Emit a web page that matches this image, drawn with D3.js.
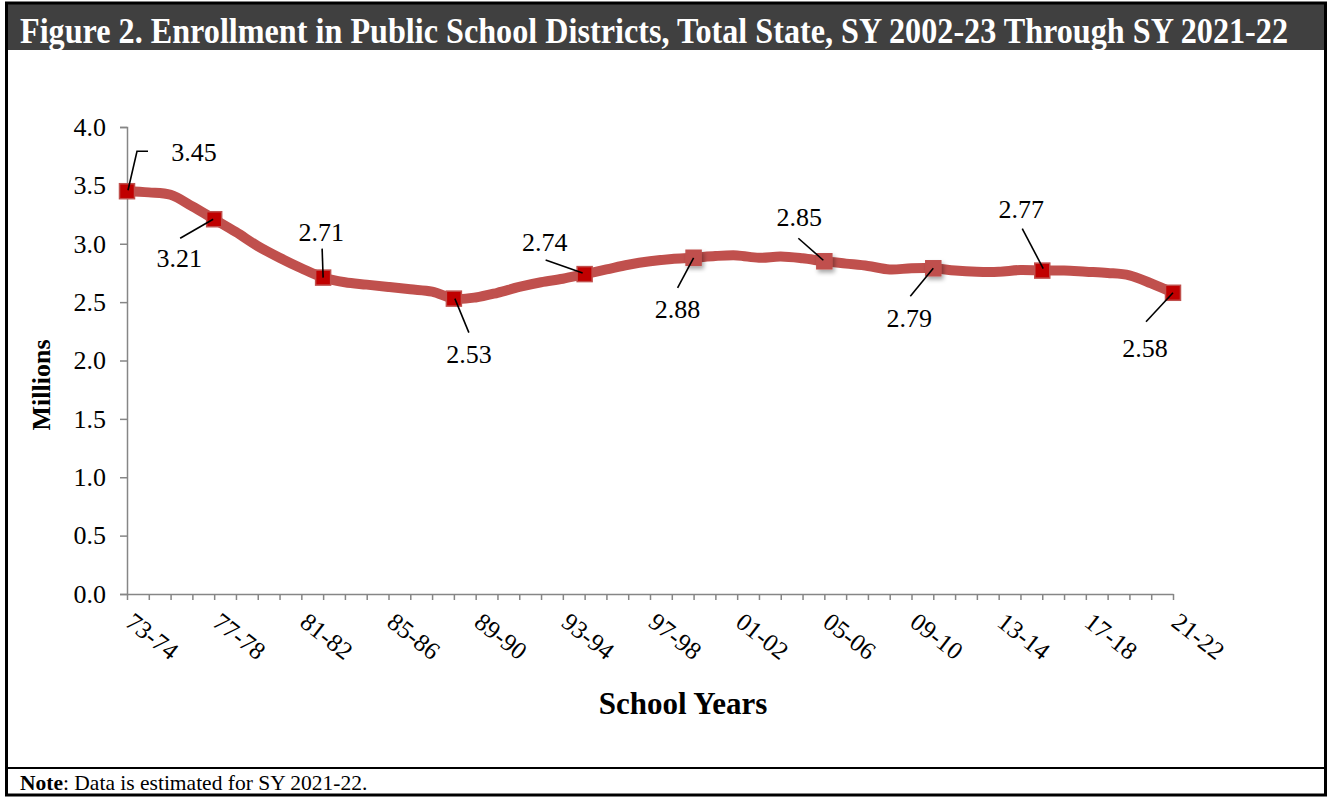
<!DOCTYPE html>
<html>
<head>
<meta charset="utf-8">
<style>
  body { margin: 0; background: #fff; }
  svg { display: block; font-family: "Liberation Serif", "Times New Roman", serif; }
  svg text { font-family: "Liberation Serif", "Times New Roman", serif; }
</style>
</head>
<body>
<svg width="1330" height="798"></svg>
<script src="https://cdn.jsdelivr.net/npm/d3@7"></script>
<script>

// Enrollment in public school districts, millions, by school year
var years = ["73-74", "74-75", "75-76", "76-77", "77-78", "78-79", "79-80", "80-81", "81-82", "82-83",
             "83-84", "84-85", "85-86", "86-87", "87-88", "88-89", "89-90", "90-91", "91-92", "92-93",
             "93-94", "94-95", "95-96", "96-97", "97-98", "98-99", "99-00", "00-01", "01-02", "02-03",
             "03-04", "04-05", "05-06", "06-07", "07-08", "08-09", "09-10", "10-11", "11-12", "12-13",
             "13-14", "14-15", "15-16", "16-17", "17-18", "18-19", "19-20", "20-21", "21-22"];

var enrollment = [3.45, 3.44, 3.42, 3.32, 3.21, 3.10, 2.98, 2.88, 2.79, 2.71,
                  2.67, 2.65, 2.63, 2.61, 2.59, 2.53, 2.54, 2.58, 2.63, 2.67,
                  2.70, 2.74, 2.78, 2.82, 2.85, 2.87, 2.88, 2.895, 2.90, 2.88,
                  2.89, 2.875, 2.85, 2.83, 2.81, 2.78, 2.79, 2.79, 2.77, 2.76,
                  2.76, 2.775, 2.77, 2.77, 2.76, 2.75, 2.73, 2.66, 2.58];

var labelledYears = ["73-74", "77-78", "82-83", "88-89", "94-95", "99-00", "05-06", "10-11", "15-16", "21-22"];
var labelText = ["3.45", "3.21", "2.71", "2.53", "2.74", "2.88", "2.85", "2.79", "2.77", "2.58"];
var tickYears = ["73-74", "77-78", "81-82", "85-86", "89-90", "93-94", "97-98", "01-02", "05-06", "09-10", "13-14", "17-18", "21-22"];
var yTicks = [0, 0.5, 1, 1.5, 2, 2.5, 3, 3.5, 4];

// label placement relative to the marker: label centre, leader line points
var callouts = [
  {dx: 67, dy: -39, leader: [[21, -40], [10, -40], [1, -1]], dark: true},
  {dx: -35, dy: 39, leader: [[-34, 19], [-1, 0]], dark: true},
  {dx: -2, dy: -46, leader: [[-1, -29], [0, 0]], dark: true},
  {dx: 15, dy: 55, leader: [[15, 34], [1, 0]], dark: true},
  {dx: -40, dy: -32, leader: [[-39, -14], [-2, -1]], dark: true},
  {dx: -16, dy: 51, leader: [[-16, 30], [0, 0]], dark: false},
  {dx: -25, dy: -44, leader: [[-26, -23], [-1, -1]], dark: false},
  {dx: -24, dy: 50, leader: [[-23, 28], [0, 0]], dark: false},
  {dx: -21, dy: -62, leader: [[-20, -42], [1, -2]], dark: true},
  {dx: -28, dy: 55, leader: [[-27, 29], [0, 0]], dark: true}
];

var svg = d3.select("svg");

// frame and title bar
svg.append("rect").attr("x", 6).attr("y", 3).attr("width", 1319).attr("height", 47).attr("fill", "#404040");
svg.append("rect").attr("x", 6.5).attr("y", 3).attr("width", 1319).attr("height", 792)
    .attr("fill", "none").attr("stroke", "#000").attr("stroke-width", 3);
svg.append("line").attr("x1", 6).attr("x2", 1325).attr("y1", 768).attr("y2", 768)
    .attr("stroke", "#000").attr("stroke-width", 2);

svg.append("text")
    .attr("transform", "translate(20,43) scale(1,1.12)")
    .attr("fill", "#fff").attr("font-weight", "bold").attr("font-size", 32)
    .attr("textLength", 1268).attr("lengthAdjust", "spacingAndGlyphs")
    .text("Figure 2. Enrollment in Public School Districts, Total State, SY 2002-23 Through SY 2021-22");

var note = svg.append("text").attr("x", 20).attr("y", 790).attr("font-size", 21.5);
note.append("tspan").attr("font-weight", "bold").text("Note");
note.append("tspan").text(": Data is estimated for SY 2021-22.");

var x = d3.scalePoint().domain(years).range([127, 1173]);
var y = d3.scaleLinear().domain([0, 4]).range([594, 127]);

var axisColor = "#868686";

// y axis
var gy = svg.append("g")
    .attr("transform", "translate(127,0)")
    .call(d3.axisLeft(y).tickValues(yTicks).tickFormat(d3.format(".1f")).tickSize(7).tickPadding(14));
gy.select(".domain").attr("stroke", axisColor).attr("stroke-width", 1.5);
gy.selectAll(".tick line").attr("stroke", axisColor).attr("stroke-width", 1.5);
gy.selectAll(".tick text").attr("font-family", "Liberation Serif").attr("font-size", 26).attr("fill", "#000");

// x axis
var gx = svg.append("g")
    .attr("transform", "translate(0,594)")
    .call(d3.axisBottom(x).tickSize(6).tickSizeOuter(0).tickFormat(""));
gx.select(".domain").attr("stroke", axisColor).attr("stroke-width", 1.5);
gx.selectAll(".tick line").attr("stroke", axisColor).attr("stroke-width", 1.5);

svg.append("g").selectAll("text")
    .data(tickYears)
    .join("text")
    .attr("transform", function(d) { return "translate(" + (x(d) + 8) + ",611) rotate(38)"; })
    .attr("dy", "0.71em")
    .attr("font-size", 25)
    .text(function(d) { return d; });

// axis titles
svg.append("text")
    .attr("transform", "translate(50,385) rotate(-90)")
    .attr("text-anchor", "middle")
    .attr("font-weight", "bold").attr("font-size", 26)
    .text("Millions");

svg.append("text")
    .attr("x", 683).attr("y", 714)
    .attr("text-anchor", "middle")
    .attr("font-weight", "bold").attr("font-size", 31)
    .text("School Years");

// shadow for the lighter markers
var defs = svg.append("defs");
var f = defs.append("filter").attr("id", "shadow").attr("x", "-50%").attr("y", "-50%").attr("width", "200%").attr("height", "200%");
f.append("feDropShadow").attr("dx", 2).attr("dy", 3).attr("stdDeviation", 2).attr("flood-color", "#000").attr("flood-opacity", 0.35);

// line
var line = d3.line()
    .x(function(d, i) { return x(years[i]); })
    .y(function(d) { return y(d); })
    .curve(d3.curveCatmullRom.alpha(0.5));

svg.append("path")
    .datum(enrollment)
    .attr("fill", "none")
    .attr("stroke", "#C0504D")
    .attr("stroke-width", 10)
    .attr("stroke-linejoin", "round")
    .attr("d", line);

// markers, leaders and labels
var pts = labelledYears.map(function(yr, k) {
  var i = years.indexOf(yr);
  return {px: x(yr), py: y(enrollment[i]), text: labelText[k], c: callouts[k]};
});

var sq = 15;
svg.append("g").selectAll("rect")
    .data(pts)
    .join("rect")
    .attr("x", function(d) { return d.px - sq / 2; })
    .attr("y", function(d) { return d.py - sq / 2; })
    .attr("width", sq).attr("height", sq)
    .attr("fill", function(d) { return d.c.dark ? "#C00000" : "#C0504D"; })
    .attr("stroke", "#C0504D").attr("stroke-width", 1.5)
    .attr("filter", function(d) { return d.c.dark ? null : "url(#shadow)"; });

svg.append("g").selectAll("path")
    .data(pts)
    .join("path")
    .attr("fill", "none").attr("stroke", "#000").attr("stroke-width", 1.6)
    .attr("d", function(d) {
      return d3.line()(d.c.leader.map(function(p) { return [d.px + p[0], d.py + p[1]]; }));
    });

svg.append("g").selectAll("text")
    .data(pts)
    .join("text")
    .attr("x", function(d) { return d.px + d.c.dx; })
    .attr("y", function(d) { return d.py + d.c.dy; })
    .attr("dy", "0.35em")
    .attr("text-anchor", "middle")
    .attr("font-size", 26)
    .text(function(d) { return d.text; });

</script>
</body>
</html>
